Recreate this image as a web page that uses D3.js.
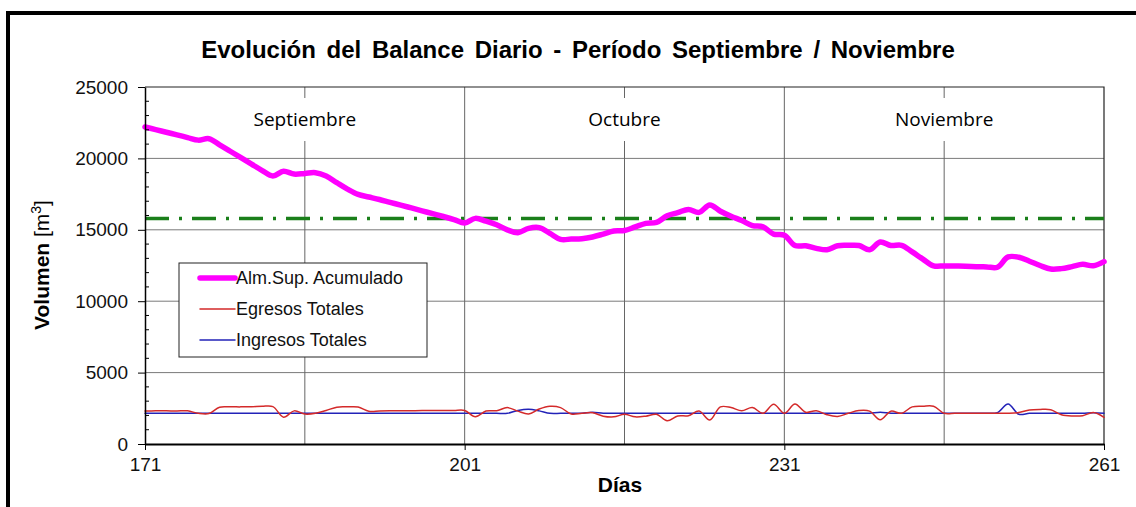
<!DOCTYPE html>
<html>
<head>
<meta charset="utf-8">
<script src="https://cdn.jsdelivr.net/npm/d3@7"></script>
<style>
  body { margin: 0; background: #fff; }
  svg { display: block; }
</style>
</head>
<body>
<div id="chart"></div>
<script>
// dias del periodo (171 .. 261)
const dias = d3.range(171, 262);

// Alm.Sup. Acumulado, un valor por dia
const almacenamiento = [
  22200, 22020, 21830, 21650, 21460, 21280, 21380, 20950, 20500, 20050,
  19600, 19150, 18770, 19100, 18900, 18950, 19000, 18770, 18300, 17850,
  17480, 17300, 17120, 16920, 16730, 16530, 16330, 16130, 15930, 15720,
  15480, 15800, 15600, 15350, 15000, 14800, 15100, 15150, 14750, 14330,
  14350, 14380, 14500, 14700, 14920, 14950, 15200, 15450, 15520, 15980,
  16200, 16430, 16220, 16740, 16300, 15950, 15650, 15300, 15200, 14700,
  14620, 13900, 13880, 13700, 13600, 13880, 13910, 13900, 13600, 14150,
  13900, 13910, 13450, 12950, 12480, 12470, 12460, 12450, 12420, 12400,
  12380, 13100, 13080, 12800, 12500, 12250, 12280, 12420, 12580, 12480,
  12770
];

// Egresos Totales
const egresos = [
  2310, 2320, 2320, 2310, 2320, 2150, 2130, 2580, 2600, 2600,
  2610, 2640, 2620, 1880, 2320, 2100, 2150, 2350, 2580, 2600,
  2590, 2300, 2310, 2320, 2330, 2330, 2340, 2340, 2350, 2350,
  2350, 1910, 2310, 2330, 2550, 2300, 2100, 2450, 2640, 2550,
  2100, 2150, 2190, 1950, 1900, 2080, 1900, 1950, 2080, 1630,
  1960, 1980, 2310, 1680, 2600, 2550, 2330, 2550, 2150, 2780,
  2150, 2800, 2220, 2330, 2050, 1930, 2150, 2340, 2300, 1700,
  2300, 2150, 2600, 2650, 2650, 2150, 2150, 2150, 2150, 2150,
  2150, 2150, 2200, 2380, 2420, 2400, 2050, 1960, 1980, 2200,
  1870
];

// Ingresos Totales
const ingresos = [
  2150, 2150, 2150, 2150, 2150, 2150, 2150, 2150, 2150, 2150,
  2150, 2150, 2150, 2150, 2150, 2150, 2150, 2150, 2150, 2150,
  2150, 2150, 2150, 2150, 2150, 2150, 2150, 2150, 2150, 2150,
  2150, 2150, 2150, 2150, 2150, 2350, 2430, 2320, 2150, 2150,
  2150, 2150, 2220, 2150, 2150, 2150, 2150, 2150, 2150, 2150,
  2150, 2150, 2150, 2150, 2150, 2150, 2150, 2150, 2150, 2150,
  2150, 2150, 2150, 2150, 2150, 2150, 2150, 2150, 2150, 2220,
  2150, 2150, 2150, 2150, 2150, 2150, 2150, 2150, 2150, 2150,
  2200, 2800, 2080, 2150, 2150, 2150, 2150, 2150, 2150, 2190,
  2150
];

// nivel de referencia (linea punto-raya verde)
const nivelReferencia = 15800;

const xTicks = [171, 201, 231, 261];
const xMinor = [186, 216, 246];
const yTicks = [0, 5000, 10000, 15000, 20000, 25000];
const meses = [
  { dia: 186, nombre: "Septiembre" },
  { dia: 216, nombre: "Octubre" },
  { dia: 246, nombre: "Noviembre" }
];
const series = [
  { nombre: "Alm.Sup. Acumulado", valores: almacenamiento, color: "#ff00ff", ancho: 5.5 },
  { nombre: "Egresos Totales", valores: egresos, color: "#d42a2a", ancho: 1.5 },
  { nombre: "Ingresos Totales", valores: ingresos, color: "#2323b8", ancho: 1.5 }
];

const W = 1136, H = 507;
const margin = { top: 87, right: 32, bottom: 63, left: 145 };
const font = "'Liberation Sans', Arial, sans-serif";

const svg = d3.select("#chart").append("svg")
  .attr("width", W)
  .attr("height", H);

// marco exterior
svg.append("rect")
  .attr("x", 8).attr("y", 13)
  .attr("width", W + 20).attr("height", H + 20)
  .attr("fill", "none")
  .attr("stroke", "#000")
  .attr("stroke-width", 4);

const x = d3.scaleLinear().domain([171, 261]).range([margin.left, W - margin.right]);
const y = d3.scaleLinear().domain([0, 25000]).range([H - margin.bottom, margin.top]);

// titulo
svg.append("text")
  .attr("x", 578).attr("y", 58)
  .attr("text-anchor", "middle")
  .style("font-family", font)
  .style("font-size", "24px")
  .style("font-weight", "bold")
  .style("word-spacing", "4px")
  .text("Evolución del Balance Diario - Período Septiembre / Noviembre");

// grilla horizontal
svg.append("g")
  .selectAll("line")
  .data(yTicks.slice(1, -1))
  .join("line")
  .attr("x1", x(171)).attr("x2", x(261))
  .attr("y1", d => y(d)).attr("y2", d => y(d))
  .attr("stroke", "#7a7a7a")
  .attr("stroke-width", 1);

// grilla vertical
svg.append("g")
  .selectAll("line")
  .data(xTicks.slice(1, -1).concat(xMinor))
  .join("line")
  .attr("x1", d => x(d)).attr("x2", d => x(d))
  .attr("y1", y(25000)).attr("y2", y(0))
  .attr("stroke", "#666")
  .attr("stroke-width", 1);

// borde superior y derecho del area
svg.append("path")
  .attr("d", `M${x(171)},${y(25000)}H${x(261)}V${y(0)}`)
  .attr("fill", "none")
  .attr("stroke", "#222")
  .attr("stroke-width", 1.2);

// nombres de los meses con fondo blanco
const mes = svg.append("g").selectAll("g")
  .data(meses)
  .join("g")
  .attr("transform", d => `translate(${x(d.dia)},120)`);
mes.append("rect")
  .attr("x", -62).attr("y", -22)
  .attr("width", 124).attr("height", 43)
  .attr("fill", "#fff");
mes.append("text")
  .attr("text-anchor", "middle")
  .attr("y", 6)
  .style("font-family", "'Open Sans', sans-serif")
  .style("font-size", "19px")
  .text(d => d.nombre);

// linea de referencia
svg.append("line")
  .attr("x1", x(171)).attr("x2", x(261))
  .attr("y1", y(nivelReferencia)).attr("y2", y(nivelReferencia))
  .attr("stroke", "#1a7f1a")
  .attr("stroke-width", 3.5)
  .attr("stroke-dasharray", "24 10 3 10");

// series
const line = d3.line()
  .x((d, i) => x(dias[i]))
  .y(d => y(d))
  .curve(d3.curveCatmullRom.alpha(0.5));

svg.append("g")
  .selectAll("path")
  .data(series.slice().reverse())
  .join("path")
  .attr("d", d => line(d.valores))
  .attr("fill", "none")
  .attr("stroke", d => d.color)
  .attr("stroke-width", d => d.ancho)
  .attr("stroke-linejoin", "round")
  .attr("stroke-linecap", "round");

// eje Y
const yAxis = svg.append("g")
  .attr("transform", `translate(${x(171)},0)`)
  .call(d3.axisLeft(y).tickValues(yTicks).tickSize(7).tickSizeOuter(0).tickPadding(10).tickFormat(d3.format("d")));
yAxis.select(".domain").attr("stroke", "#000").attr("stroke-width", 1.5);
yAxis.selectAll("text").style("font-family", font).style("font-size", "19px").attr("fill", "#111");

// marcas menores del eje Y (hacia adentro)
svg.append("g")
  .selectAll("line")
  .data(d3.range(1000, 25000, 1000).filter(d => d % 5000 !== 0))
  .join("line")
  .attr("x1", x(171)).attr("x2", x(171) + 4)
  .attr("y1", d => y(d)).attr("y2", d => y(d))
  .attr("stroke", "#000");

// eje X
const xAxis = svg.append("g")
  .attr("transform", `translate(0,${y(0)})`)
  .call(d3.axisBottom(x).tickValues(xTicks).tickSize(6).tickSizeOuter(0).tickPadding(8).tickFormat(d3.format("d")));
xAxis.select(".domain").attr("stroke", "#000").attr("stroke-width", 2);
xAxis.selectAll("text").style("font-family", font).style("font-size", "19px").attr("fill", "#111");

// titulos de ejes
svg.append("text")
  .attr("x", 620).attr("y", 492)
  .attr("text-anchor", "middle")
  .style("font-family", font)
  .style("font-size", "21px")
  .style("font-weight", "bold")
  .text("Días");

const yLab = svg.append("text")
  .attr("transform", "translate(49,265) rotate(-90)")
  .attr("text-anchor", "middle")
  .style("font-family", font)
  .style("font-size", "21px")
  .style("font-weight", "bold");
yLab.append("tspan").text("Volumen ");
yLab.append("tspan").style("font-weight", "normal").text("[m");
yLab.append("tspan").style("font-weight", "normal").style("font-size", "14px").attr("dy", -8).text("3");
yLab.append("tspan").style("font-weight", "normal").attr("dy", 8).text("]");

// leyenda
const legend = svg.append("g").attr("transform", "translate(179,263)");
legend.append("rect")
  .attr("width", 248).attr("height", 94)
  .attr("fill", "#fff")
  .attr("stroke", "#222")
  .attr("stroke-width", 1);
const item = legend.selectAll("g.item")
  .data(series)
  .join("g")
  .attr("class", "item")
  .attr("transform", (d, i) => `translate(0,${15 + i * 31})`);
item.append("line")
  .attr("x1", 21).attr("x2", 56)
  .attr("stroke", d => d.color)
  .attr("stroke-width", d => d.ancho)
  .attr("stroke-linecap", "round");
item.append("text")
  .attr("x", 57).attr("y", 6)
  .style("font-family", font)
  .style("font-size", "18px")
  .attr("fill", "#111")
  .text(d => d.nombre);
</script>
</body>
</html>
